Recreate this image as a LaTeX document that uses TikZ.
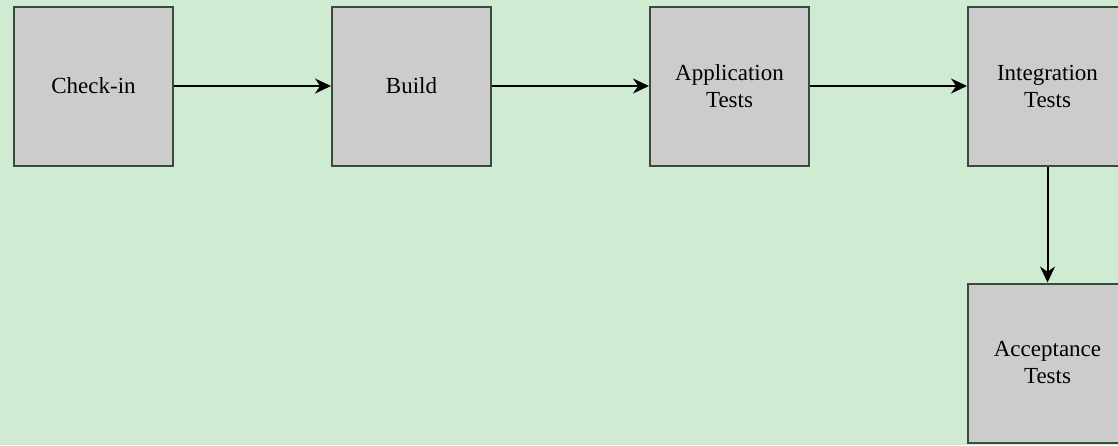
\documentclass[tikz,border=0pt]{standalone}
\usepackage{fontspec}
\setmainfont{Liberation Serif}
\usetikzlibrary{positioning,arrows.meta}
\definecolor{bggreen}{RGB}{207,235,210}
\definecolor{boxgray}{RGB}{204,204,204}
\definecolor{boxedge}{RGB}{58,74,60}

\begin{document}
\begin{tikzpicture}[
  stage/.style = {fill = boxgray, draw = boxedge, line width = 1pt, shape = rectangle, minimum width = 79.5pt, minimum height = 79.5pt, align = center, font = \fontsize{11.5}{13.5}\selectfont},
  flow/.style = {-{Stealth[length = 8pt, width = 7.5pt]}, line width = 1pt, black},
  node distance = 78.5pt and 78.5pt
]
\fill[bggreen] (0,0) rectangle (559pt,-222.5pt);
\useasboundingbox (0,0) rectangle (559pt,-222.5pt);
\clip (0,0) rectangle (559pt,-222.5pt);
\node[stage] (checkin) at (46.75pt,-43pt) {Check-in};
\node[stage, right = of checkin] (build) {Build};
\node[stage, right = of build] (apptests) {Application\\Tests};
\node[stage, right = of apptests] (inttests) {Integration\\Tests};
\node[stage, below = 58pt of inttests] (acctests) {Acceptance\\Tests};
\draw[flow] (checkin) -- (build);
\draw[flow] (build) -- (apptests);
\draw[flow] (apptests) -- (inttests);
\draw[flow] (inttests) -- (acctests);
\end{tikzpicture}
\end{document}
